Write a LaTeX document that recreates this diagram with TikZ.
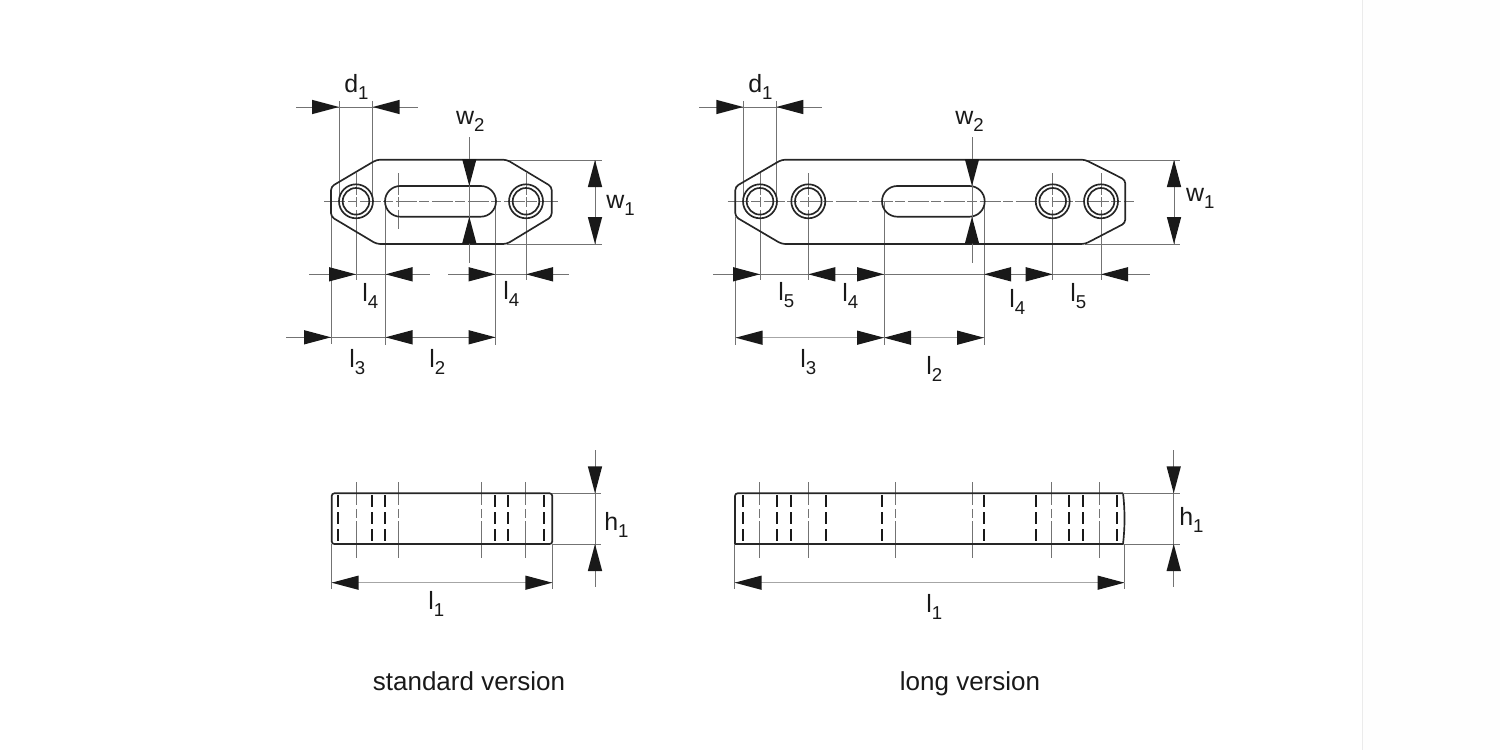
\documentclass[tikz,border=0pt]{standalone}
\usepackage{fontspec}
\setmainfont{Liberation Sans}
\def\dimtip(#1,#2:#3){\fill[color=black!90,shift={(#1,#2)},rotate=#3] (0,0) -- (-27,7.2) -- (-27,-7.2) -- cycle;}
\def\dimtext#1#2{\fontsize{14.2}{16}\selectfont #1\raisebox{-0.14cm}{\fontsize{10.6}{12}\selectfont #2}}
\tikzset{
	outline/.style={line width=0.95pt, color=black!85},
	thinline/.style={line width=0.4pt, color=black!55},
	dimline/.style={line width=0.8pt, color=black!35},
	centerline/.style={line width=0.4pt, color=black!55, dash pattern=on 0.42cm off 0.05cm on 0.2cm off 0.05cm},
	sideline/.style={line width=0.4pt, color=black!55, dash pattern=on 0.46cm off 0.07cm on 0.18cm off 0.07cm on 1cm off 0cm},
	holeline/.style={line width=0.4pt, color=black!55, dash pattern=on 0.44cm off 0.05cm on 0.2cm off 0.05cm on 2cm off 0cm},
	dashline/.style={line width=1pt, color=black!90, dash pattern=on 0.24cm off 0.1cm},
	lab/.style={anchor=base west, inner sep=0pt, color=black!90},
	caption/.style={anchor=base, inner sep=0pt, color=black!90, font=\fontsize{14.8}{16}\selectfont}
}
\begin{document}
\begin{tikzpicture}[x=0.02cm, y=-0.02cm]
	\useasboundingbox (0,0) rectangle (1500,750);
	%%%%% PAGE EDGE %%%%%
	\fill[color=black!0.5] (1362,0) rectangle (1500,750);
	\draw[line width=0.4pt, color=black!8] (1362,0) -- (1362,750);
	
	%%%%% STANDARD, TOP %%%%%
	\draw[thinline] (339,101) -- (339,201);
	\draw[thinline] (372.7,101) -- (372.7,201);
	\draw[thinline] (331,217) -- (331,344);
	\draw[thinline] (385.5,201) -- (385.5,345);
	\draw[thinline] (495.5,201) -- (495.5,345);
	\draw[thinline] (507,160) -- (601.7,160);
	\draw[thinline] (507,244) -- (601.7,244);
	
	\draw[centerline] (324,201.3) -- (558,201.3);
	\draw[holeline] (356,173) -- (356,280);
	\draw[holeline] (526,173) -- (526,280);
	\draw[holeline] (398,173) -- (398,229);
	
	\draw[outline, rounded corners=2pt] (331,186.7) -- (376.7,159.7) -- (506.7,159.7) -- (551.7,186.7) -- (551.7,216.7) -- (506.7,244) -- (376.7,244) -- (331,216.7) -- cycle;
	\draw[outline, rounded corners=0.306cm] (385,186) rectangle (496,216.7);
	\draw[outline] (356,201.3) circle (17);
	\draw[outline] (356,201.3) circle (13.3);
	\draw[outline] (526,201.3) circle (17);
	\draw[outline] (526,201.3) circle (13.3);
	
	\draw[thinline] (296,107) -- (418,107);
	\dimtip(339,107:0);
	\dimtip(372.7,107:180);
	\node[lab] (stdD) at (344,92.7) {\dimtext{d}{1}};
	
	\draw[thinline] (469.3,137) -- (469.3,263);
	\dimtip(469.3,186:-90);
	\dimtip(469.3,216.7:90);
	\node[lab] (stdWtwo) at (455.7,125) {\dimtext{w}{2}};
	
	\draw[thinline] (595,160) -- (595,244);
	\dimtip(595,160:90);
	\dimtip(595,244:-90);
	\node[lab] (stdWone) at (606,208.3) {\dimtext{w}{1}};
	
	\draw[thinline] (309,274.3) -- (429.5,274.3);
	\dimtip(356,274.3:0);
	\dimtip(385.5,274.3:180);
	\node[lab] (stdLfourA) at (362,301) {\dimtext{l}{4}};
	
	\draw[thinline] (448,274.3) -- (568.7,274.3);
	\dimtip(495.5,274.3:0);
	\dimtip(526,274.3:180);
	\node[lab] (stdLfourB) at (503,299) {\dimtext{l}{4}};
	
	\draw[thinline] (286,337.3) -- (495.5,337.3);
	\dimtip(331,337.3:0);
	\dimtip(385.5,337.3:180);
	\dimtip(495.5,337.3:0);
	\node[lab] (stdLthree) at (349,367.3) {\dimtext{l}{3}};
	\node[lab] (stdLtwo) at (429,367.3) {\dimtext{l}{2}};
	
	%%%%% STANDARD, SIDE %%%%%
	\draw[sideline] (356,482.3) -- (356,558.3);
	\draw[sideline] (398.3,482.3) -- (398.3,558.3);
	\draw[sideline] (481.7,482.3) -- (481.7,558.3);
	\draw[sideline] (525.7,482.3) -- (525.7,558.3);
	
	\draw[dashline] (338.3,495) -- (338.3,542);
	\draw[dashline] (371.7,495) -- (371.7,542);
	\draw[dashline] (385.3,495) -- (385.3,542);
	\draw[dashline] (495,495) -- (495,542);
	\draw[dashline] (508.3,495) -- (508.3,542);
	\draw[dashline] (543.7,495) -- (543.7,542);
	
	\draw[outline, rounded corners=1.5pt] (331.7,493.3) rectangle (552.3,544);
	
	\draw[thinline] (552,493.3) -- (601,493.3);
	\draw[thinline] (552,544) -- (601,544);
	\draw[thinline] (595,450) -- (595,586.7);
	\dimtip(595,493.3:-90);
	\dimtip(595,544:90);
	\node[lab] (stdH) at (604,530) {\dimtext{h}{1}};
	
	\draw[thinline] (331.7,544) -- (331.7,589);
	\draw[thinline] (552.3,544) -- (552.3,589);
	\draw[dimline] (331.7,582.7) -- (552.3,582.7);
	\dimtip(331.7,582.7:180);
	\dimtip(552.3,582.7:0);
	\node[lab] (stdLone) at (428,609.3) {\dimtext{l}{1}};
	
	\node[caption] (stdCaption) at (469,690) {standard version};
	
	%%%%% LONG, TOP %%%%%
	\draw[thinline] (743.3,101) -- (743.3,201);
	\draw[thinline] (776.3,101) -- (776.3,201);
	\draw[thinline] (735.6,217) -- (735.6,345);
	\draw[thinline] (884,201) -- (884,345);
	\draw[thinline] (984,201) -- (984,345);
	\draw[thinline] (1085,160) -- (1180,160);
	\draw[thinline] (1085,244) -- (1180,244);
	
	\draw[centerline] (727.7,201.3) -- (1134,201.3);
	\draw[holeline] (760,173) -- (760,280);
	\draw[holeline] (808.3,173) -- (808.3,280);
	\draw[holeline] (1052.7,173) -- (1052.7,280);
	\draw[holeline] (1101,173) -- (1101,280);
	
	\draw[outline, rounded corners=2pt] (735.3,186.7) -- (781.7,159.7) -- (1085,159.7) -- (1125.3,180) -- (1125.3,223) -- (1085,244) -- (781.7,244) -- (735.3,216.7) -- cycle;
	\draw[outline, rounded corners=0.306cm] (882,186) rectangle (984.7,216.7);
	\draw[outline] (760,201.3) circle (17);
	\draw[outline] (760,201.3) circle (13.3);
	\draw[outline] (808.3,201.3) circle (17);
	\draw[outline] (808.3,201.3) circle (13.3);
	\draw[outline] (1052.7,201.3) circle (17);
	\draw[outline] (1052.7,201.3) circle (13.3);
	\draw[outline] (1101,201.3) circle (17);
	\draw[outline] (1101,201.3) circle (13.3);
	
	\draw[thinline] (699.3,107) -- (821.7,107);
	\dimtip(743.3,107:0);
	\dimtip(776.3,107:180);
	\node[lab] (longD) at (748,92.7) {\dimtext{d}{1}};
	
	\draw[thinline] (972,137) -- (972,263);
	\dimtip(972,186:-90);
	\dimtip(972,216.7:90);
	\node[lab] (longWtwo) at (955,125) {\dimtext{w}{2}};
	
	\draw[thinline] (1174,160) -- (1174,244);
	\dimtip(1174,160:90);
	\dimtip(1174,244:-90);
	\node[lab] (longWone) at (1185.7,201.7) {\dimtext{w}{1}};
	
	\draw[thinline] (713,274.3) -- (1150,274.3);
	\dimtip(760,274.3:0);
	\dimtip(808.3,274.3:180);
	\dimtip(884,274.3:0);
	\dimtip(984,274.3:180);
	\dimtip(1052.7,274.3:0);
	\dimtip(1101,274.3:180);
	\node[lab] (longLfiveA) at (778,300) {\dimtext{l}{5}};
	\node[lab] (longLfourA) at (842,301) {\dimtext{l}{4}};
	\node[lab] (longLfourB) at (1009,307) {\dimtext{l}{4}};
	\node[lab] (longLfiveB) at (1070,301) {\dimtext{l}{5}};
	
	\draw[dimline] (735.6,337.7) -- (984,337.7);
	\dimtip(735.6,337.7:180);
	\dimtip(884,337.7:0);
	\dimtip(884,337.7:180);
	\dimtip(984,337.7:0);
	\node[lab] (longLthree) at (800,367) {\dimtext{l}{3}};
	\node[lab] (longLtwo) at (926,374) {\dimtext{l}{2}};
	
	%%%%% LONG, SIDE %%%%%
	\draw[sideline] (759.7,482.3) -- (759.7,558.3);
	\draw[sideline] (808.3,482.3) -- (808.3,558.3);
	\draw[sideline] (895.3,482.3) -- (895.3,558.3);
	\draw[sideline] (972.3,482.3) -- (972.3,558.3);
	\draw[sideline] (1051.7,482.3) -- (1051.7,558.3);
	\draw[sideline] (1099.3,482.3) -- (1099.3,558.3);
	
	\draw[dashline] (742.7,495) -- (742.7,542);
	\draw[dashline] (776.7,495) -- (776.7,542);
	\draw[dashline] (791,495) -- (791,542);
	\draw[dashline] (825.7,495) -- (825.7,542);
	\draw[dashline] (882.3,495) -- (882.3,542);
	\draw[dashline] (984,495) -- (984,542);
	\draw[dashline] (1036,495) -- (1036,542);
	\draw[dashline] (1069,495) -- (1069,542);
	\draw[dashline] (1083,495) -- (1083,542);
	\draw[dashline] (1117,495) -- (1117,542);
	
	\draw[outline, rounded corners=1.5pt] (735,544) -- (735,493.3) -- (1123,493.3);
	\draw[outline] (735,544) -- (1123,544);
	\draw[outline] (1123,493.3) .. controls (1125,510) and (1125,527) .. (1123,544);
	
	\draw[thinline] (1123,493.3) -- (1180,493.3);
	\draw[thinline] (1123,544) -- (1180,544);
	\draw[thinline] (1173.7,450) -- (1173.7,586.7);
	\dimtip(1173.7,493.3:-90);
	\dimtip(1173.7,544:90);
	\node[lab] (longH) at (1179,525) {\dimtext{h}{1}};
	
	\draw[thinline] (734.7,544) -- (734.7,589);
	\draw[thinline] (1124.5,544) -- (1124.5,589);
	\draw[dimline] (734.7,582.7) -- (1124.5,582.7);
	\dimtip(734.7,582.7:180);
	\dimtip(1124.5,582.7:0);
	\node[lab] (longLone) at (926,612.7) {\dimtext{l}{1}};
	
	\node[caption] (longCaption) at (970,690) {long version};
\end{tikzpicture}
\end{document}
